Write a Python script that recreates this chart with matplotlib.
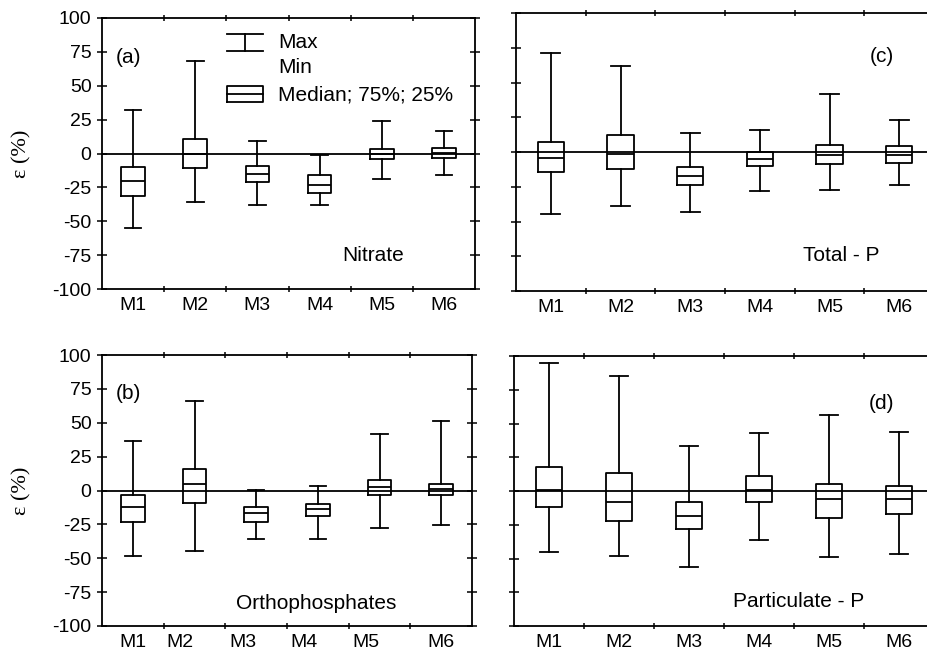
import matplotlib
matplotlib.use("Agg")
import matplotlib.pyplot as plt
from matplotlib.ticker import FixedLocator, NullFormatter

plt.rcParams['font.family'] = ['Liberation Sans', 'DejaVu Sans']

categories = ["M1", "M2", "M3", "M4", "M5", "M6"]

# panel (a) Nitrate: whislo, q1, med, q3, whishi
nitrate_min = [-55, -36, -38, -38, -19, -16]
nitrate_q1 = [-31, -11, -21, -29, -4, -3]
nitrate_med = [-20, 0, -15, -23, 0, 0.5]
nitrate_q3 = [-10, 11, -9, -15.5, 3, 4]
nitrate_max = [32, 68, 9, -1, 24, 16.5]

# panel (b) Orthophosphates
ortho_min = [-48, -44.5, -36, -36, -28, -25.5]
ortho_q1 = [-23.5, -9, -23, -19, -3, -3]
ortho_med = [-12, 4.5, -16.5, -14, 2.5, 1]
ortho_q3 = [-3, 15.5, -12.5, -10, 8, 5]
ortho_max = [36.5, 66, 0.5, 3.5, 41.5, 51.5]

# panel (c) Total - P
totp_min = [-44.5, -39, -43, -28, -27, -23.5]
totp_q1 = [-14.5, -12.5, -23.5, -10, -8.5, -8]
totp_med = [-4.5, -1.5, -17, -5, -2, -2.5]
totp_q3 = [7, 12.5, -11, 0, 5, 4]
totp_max = [71, 62, 14, 16, 42, 23]

# panel (d) Particulate - P
part_min = [-45, -48, -56, -36, -49, -47]
part_q1 = [-12, -22, -28, -8.5, -20, -17]
part_med = [0.5, -8, -18.5, 0.5, -6, -6]
part_q3 = [18, 13, -8, 11, 5, 4]
part_max = [95, 85, 33, 43, 56.5, 44]

yticks = [-100, -75, -50, -25, 0, 25, 50, 75, 100]
ylabels = ["-100", "-75", "-50", "-25", "0", "25", "50", "75", "100"]

W, H = 927, 653
fig = plt.figure(figsize=(W / 100, H / 100), dpi=100)


def frac(x0, x1, ytop, ybot):
    return [x0 / W, 1 - ybot / H, (x1 - x0) / W, (ybot - ytop) / H]


panels = [
    dict(rect=frac(102, 475, 18, 289), mins=nitrate_min, q1=nitrate_q1, med=nitrate_med,
         q3=nitrate_q3, maxs=nitrate_max, tag="(a)", tagpos=(0.07, 0.856),
         name="Nitrate", namepos=(0.727, 0.122), ylab=True, legend=True,
         shift=[0, 0, 0, 0, 0, 0]),
    dict(rect=frac(102, 472, 355, 626), mins=ortho_min, q1=ortho_q1, med=ortho_med,
         q3=ortho_q3, maxs=ortho_max, tag="(b)", tagpos=(0.071, 0.859),
         name="Orthophosphates", namepos=(0.58, 0.084), ylab=True, legend=False,
         shift=[0, -0.24, -0.22, -0.22, -0.22, 0]),
    dict(rect=frac(516, 934, 13, 291), mins=totp_min, q1=totp_q1, med=totp_med,
         q3=totp_q3, maxs=totp_max, tag="(c)", tagpos=(0.875, 0.843),
         name="Total - P", namepos=(0.779, 0.127), ylab=False, legend=False,
         shift=[0, 0, 0, 0, 0, 0]),
    dict(rect=frac(514, 934, 356, 626), mins=part_min, q1=part_q1, med=part_med,
         q3=part_q3, maxs=part_max, tag="(d)", tagpos=(0.875, 0.825),
         name="Particulate - P", namepos=(0.677, 0.09), ylab=False, legend=False,
         shift=[0, 0, 0, 0, 0, 0]),
]

positions = list(range(1, len(categories) + 1))
lw = 1.3

for p in panels:
    ax = fig.add_axes(p["rect"])
    stats = []
    for i in range(len(categories)):
        stats.append(dict(med=p["med"][i], q1=p["q1"][i], q3=p["q3"][i],
                          whislo=p["mins"][i], whishi=p["maxs"][i], fliers=[]))
    ax.bxp(stats, positions=positions, widths=0.38, capwidths=0.27,
           showfliers=False, manage_ticks=False,
           boxprops=dict(color="black", linewidth=lw),
           whiskerprops=dict(color="black", linewidth=lw),
           capprops=dict(color="black", linewidth=lw),
           medianprops=dict(color="black", linewidth=lw))
    ax.axhline(0, color="black", linewidth=lw, zorder=1)
    ax.set_xlim(0.5, len(categories) + 0.5)
    ax.set_ylim(-100, 100)
    for s in ax.spines.values():
        s.set_linewidth(lw)
    # y ticks
    ax.set_yticks(yticks)
    if p["ylab"]:
        ax.set_yticklabels(ylabels, fontsize=14)
    else:
        ax.yaxis.set_major_formatter(NullFormatter())
    ax.tick_params(axis="y", which="major", direction="inout", length=7, width=1.1,
                   right=True, left=True, pad=4)
    # x: labels at centers without ticks, minor ticks at dividers
    ax.set_xticks([pos + sh for pos, sh in zip(positions, p["shift"])])
    ax.set_xticklabels(categories, fontsize=14)
    ax.tick_params(axis="x", which="major", length=0, pad=6)
    ax.xaxis.set_minor_locator(FixedLocator([i + 0.5 for i in positions[:-1]]))
    ax.tick_params(axis="x", which="minor", direction="inout", length=5, width=1.1,
                   top=True, bottom=True)
    ax.text(p["tagpos"][0], p["tagpos"][1], p["tag"], transform=ax.transAxes,
            ha="center", va="center", fontsize=15)
    ax.text(p["namepos"][0], p["namepos"][1], p["name"], transform=ax.transAxes,
            ha="center", va="center", fontsize=15)
    if p["ylab"]:
        ax.set_ylabel("ε (%)", family=["Liberation Serif", "DejaVu Serif"],
                      fontsize=16, labelpad=15)
    if p["legend"]:
        t = ax.transAxes
        kw = dict(color="black", linewidth=lw, transform=t, clip_on=False)
        ax.plot([0.335, 0.432], [0.941, 0.941], **kw)
        ax.plot([0.335, 0.432], [0.878, 0.878], **kw)
        ax.plot([0.383, 0.383], [0.878, 0.941], **kw)
        ax.plot([0.335, 0.432, 0.432, 0.335, 0.335],
                [0.690, 0.690, 0.749, 0.749, 0.690], **kw)
        ax.plot([0.335, 0.432], [0.720, 0.720], **kw)
        ax.text(0.472, 0.911, "Max", transform=t, ha="left", va="center", fontsize=15)
        ax.text(0.472, 0.819, "Min", transform=t, ha="left", va="center", fontsize=15)
        ax.text(0.472, 0.716, "Median; 75%; 25%", transform=t, ha="left",
                va="center", fontsize=15)

fig.savefig("out.png", dpi=100)
